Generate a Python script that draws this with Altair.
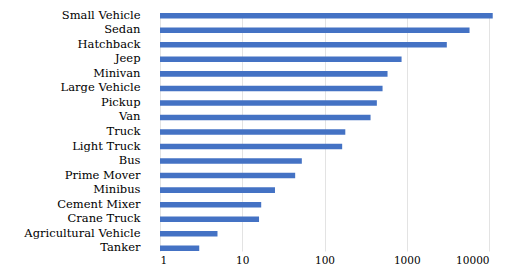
import altair as alt

categories = ["Small Vehicle", "Sedan", "Hatchback", "Jeep", "Minivan", "Large Vehicle",
              "Pickup", "Van", "Truck", "Light Truck", "Bus", "Prime Mover", "Minibus",
              "Cement Mixer", "Crane Truck", "Agricultural Vehicle", "Tanker"]
vehicles = [11100, 5800, 3070, 865, 584, 508, 433, 363, 179, 164, 53, 44, 25, 17, 16, 5, 3]
tick_values = [1, 10, 100, 1000, 10000]

records = [{"category": c, "vehicles": float(v), "base": 1.0} for c, v in zip(categories, vehicles)]
data = alt.Data(values=records)

font = "DejaVu Serif"

chart = alt.Chart(data).mark_rect(color="#4472C4").encode(
    x=alt.X("vehicles:Q",
            scale=alt.Scale(type="log", domain=[1, 10000], nice=False),
            axis=alt.Axis(values=tick_values, format="d", title=None, domain=False,
                          ticks=False, grid=True, gridColor="#e3e3e3", labelFont=font,
                          labelFontSize=10.5, labelColor="black", labelPadding=4)),
    x2=alt.X2("base:Q"),
    y=alt.Y("category:N", sort=categories,
            scale=alt.Scale(paddingInner=0.62, paddingOuter=0),
            axis=alt.Axis(title=None, domain=False, ticks=False, labelFont=font,
                          labelFontSize=11.5, labelColor="black", labelPadding=20))
).properties(
    width=329, height=238,
    autosize=alt.AutoSizeParams(type="none"),
    padding={"left": 152, "top": 5, "right": 35, "bottom": 14}
).configure_view(stroke=None)

chart.save("out.html", embed_options={"renderer": "svg", "actions": False})
